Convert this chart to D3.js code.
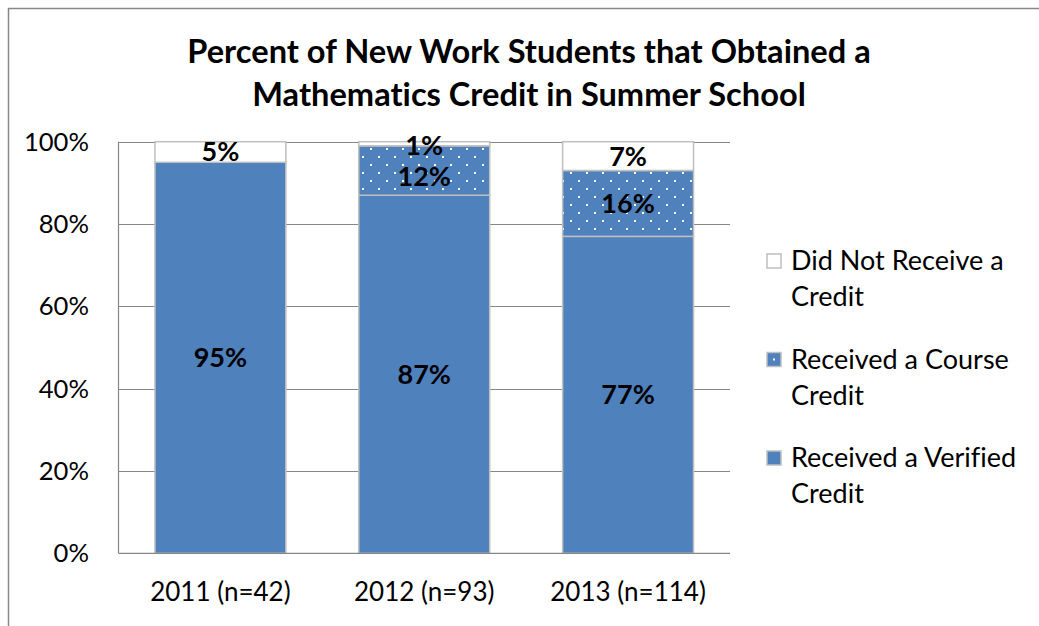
<!DOCTYPE html>
<html>
<head>
<meta charset="utf-8">
<script src="https://cdn.jsdelivr.net/npm/d3@7"></script>
<style>
  html, body { margin: 0; padding: 0; background: #fff; }
  svg { display: block; }
  text { font-family: Lato, "Open Sans", sans-serif; fill: #000; font-variant-ligatures: none; font-feature-settings: "liga" 0, "clig" 0, "dlig" 0, "calt" 0; letter-spacing: 0.01px; }
</style>
</head>
<body>
<svg id="chart" width="1039" height="626"></svg>
<script>
// ---- data ----
const categories = ["2011 (n=42)", "2012 (n=93)", "2013 (n=114)"];
const verified = [95, 87, 77];
const course = [0, 12, 16];
const notReceived = [5, 1, 7];
const seriesNames = ["Did Not Receive a Credit", "Received a Course Credit", "Received a Verified Credit"];
const yTicks = [0, 20, 40, 60, 80, 100];
const titleLines = ["Percent of New Work Students that Obtained a", "Mathematics Credit in Summer School"];

const svg = d3.select("#chart");
const W = 1039, H = 626;
const blue = "#4F81BD";
const gridColor = "#868686";
const barStroke = "#BFBFBF";

// pattern
const defs = svg.append("defs");
const pat = defs.append("pattern").attr("id", "dots")
  .attr("patternUnits", "userSpaceOnUse").attr("width", 16).attr("height", 16)
  .attr("x", 2).attr("y", 4);
pat.append("rect").attr("width", 16).attr("height", 16).attr("fill", blue);
pat.append("rect").attr("x", 0).attr("y", 0).attr("width", 2).attr("height", 2).attr("fill", "#fff");
pat.append("rect").attr("x", 8).attr("y", 8).attr("width", 2).attr("height", 2).attr("fill", "#fff");

// outer border
svg.append("path").attr("d", `M8.5,${H} L8.5,8.5 L${W},8.5`)
  .attr("fill", "none").attr("stroke", "#878787").attr("stroke-width", 1.5);

// title
svg.append("g").selectAll("text").data(titleLines).join("text")
  .attr("x", 529).attr("y", (d, i) => 63 + i * 43)
  .attr("text-anchor", "middle").attr("font-weight", "bold").attr("font-size", 32.6)
  .text(d => d);

const plot = { left: 118.5, right: 730, top: 141.7, bottom: 553.3 };
const x = d3.scaleBand().domain(categories).range([plot.left, plot.right]).paddingInner(73/204).paddingOuter(73/408);
const y = d3.scaleLinear().domain([0, 100]).range([plot.bottom, plot.top]);

// gridlines
svg.append("g").selectAll("line").data(yTicks.filter(t => t > 0)).join("line")
  .attr("x1", plot.left).attr("x2", plot.right)
  .attr("y1", d => Math.round(y(d)) + 0.5).attr("y2", d => Math.round(y(d)) + 0.5)
  .attr("stroke", gridColor).attr("stroke-width", 1.2);

// y axis labels
svg.append("g").selectAll("text").data(yTicks).join("text")
  .attr("x", 89).attr("y", d => y(d)).attr("dy", "0.35em")
  .attr("text-anchor", "end").attr("font-size", 25.6)
  .text(d => d + "%");

// stack
const rows = categories.map((c, i) => ({ cat: c, verified: verified[i], course: course[i], not: notReceived[i] }));
const stack = d3.stack().keys(["verified", "course", "not"])(rows);
const fills = { verified: blue, course: "url(#dots)", not: "#fff" };

const gBars = svg.append("g");
stack.forEach(layer => {
  gBars.append("g").selectAll("rect").data(layer.filter(d => d[1] - d[0] > 0)).join("rect")
    .attr("x", d => x(d.data.cat))
    .attr("width", x.bandwidth())
    .attr("y", d => y(d[1]))
    .attr("height", d => y(d[0]) - y(d[1]))
    .attr("fill", fills[layer.key])
    .attr("stroke", barStroke).attr("stroke-width", 1.5);
});

// axes lines
svg.append("line").attr("x1", plot.left).attr("x2", plot.left).attr("y1", plot.top).attr("y2", plot.bottom)
  .attr("stroke", gridColor).attr("stroke-width", 1.2);
svg.append("line").attr("x1", plot.left).attr("x2", plot.right).attr("y1", plot.bottom).attr("y2", plot.bottom)
  .attr("stroke", gridColor).attr("stroke-width", 1.2);

// data labels (small top segment pushes the label below it downward, as in the original)
const gLab = svg.append("g");
stack.forEach(layer => {
  gLab.append("g").selectAll("text").data(layer.filter(d => d[1] - d[0] > 0)).join("text")
    .attr("x", d => x(d.data.cat) + x.bandwidth() / 2)
    .attr("y", d => {
      let yy = (y(d[0]) + y(d[1])) / 2;
      if (layer.key === "not" && d[1] - d[0] < 3) yy += 2;
      if (layer.key === "course" && d.data.not < 3) yy += 6;
      return yy;
    })
    .attr("dy", "0.35em")
    .attr("text-anchor", "middle").attr("font-weight", "bold").attr("font-size", 27)
    .text(d => (d[1] - d[0]) + "%");
});

// x labels
svg.append("g").selectAll("text").data(categories).join("text")
  .attr("x", d => x(d) + x.bandwidth() / 2).attr("y", 592).attr("dy", "0.35em")
  .attr("text-anchor", "middle").attr("font-size", 26)
  .text(d => d);

// legend
const legendItems = [
  { lines: ["Did Not Receive a", "Credit"], fill: "#fff" },
  { lines: ["Received a Course", "Credit"], fill: "url(#legdots)" },
  { lines: ["Received a Verified", "Credit"], fill: blue }
];
const lp = defs.append("pattern").attr("id", "legdots").attr("patternUnits", "objectBoundingBox").attr("width", 1).attr("height", 1);
lp.append("rect").attr("width", 14).attr("height", 14).attr("fill", blue);
lp.append("rect").attr("x", 6).attr("y", 6).attr("width", 2).attr("height", 2).attr("fill", "#fff");

const lg = svg.append("g").selectAll("g").data(legendItems).join("g")
  .attr("transform", (d, i) => `translate(767, ${261 + i * 98.5})`);
lg.append("rect").attr("x", 0).attr("y", -7).attr("width", 14).attr("height", 14)
  .attr("fill", d => d.fill).attr("stroke", barStroke).attr("stroke-width", 1.5);
lg.selectAll("text").data(d => d.lines).join("text")
  .attr("x", 24).attr("y", (d, i) => i * 36).attr("dy", "0.35em")
  .attr("font-size", 27).text(d => d);
</script>
</body>
</html>
